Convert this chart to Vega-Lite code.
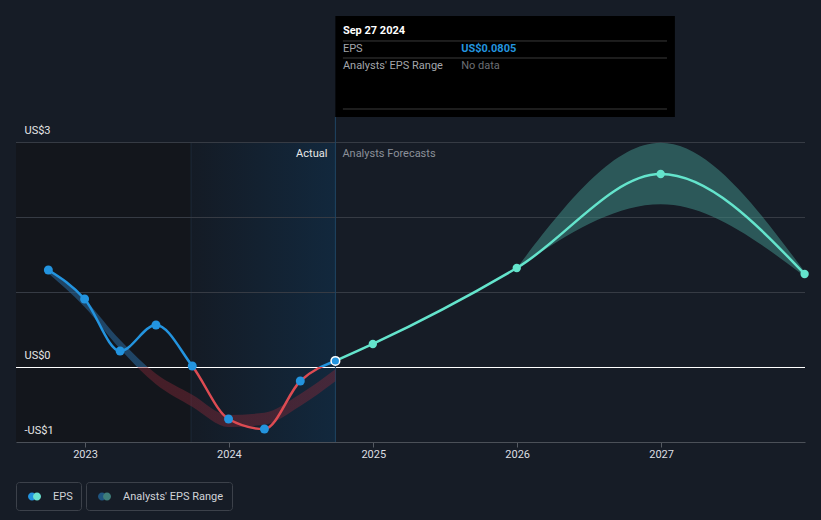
{
  "$schema": "https://vega.github.io/schema/vega-lite/v6.json",
  "width": 789,
  "height": 300,
  "autosize": {"type": "none"},
  "padding": {"left": 16, "top": 142, "right": 16, "bottom": 78},
  "background": "#161c26",
  "config": {"view": {"stroke": null}, "font": "Roboto"},
  "resolve": {"scale": {"fill": "independent"}, "legend": {"fill": "independent"}},
  "layer": [
    {
      "data": {"values": [{"s": "2022-07-10", "e": "2023-09-27"}]},
      "mark": {"type": "rect", "fill": "#13161c"},
      "encoding": {
        "x": {"field": "s", "type": "temporal", "title": null, "scale": {"type": "utc", "domain": [{"year": 2022, "month": 7, "date": 10, "utc": true}, {"year": 2028, "month": 1, "date": 1, "utc": true}]},
          "axis": {"title": null, "format": "%Y", "values": [{"year": 2023, "month": 1, "date": 1, "utc": true}, {"year": 2024, "month": 1, "date": 1, "utc": true}, {"year": 2025, "month": 1, "date": 1, "utc": true}, {"year": 2026, "month": 1, "date": 1, "utc": true}, {"year": 2027, "month": 1, "date": 1, "utc": true}], "grid": false, "domainColor": "#4b5058", "tickColor": "#555a62", "tickSize": 5, "labelColor": "#dcdee2", "labelFontSize": 11, "labelFont": "Roboto", "labelPadding": 1, "labelFlush": false}},
        "x2": {"field": "e"}
      }
    },
    {
      "data": {"values": [{"s": "2023-09-27", "e": "2024-09-27"}]},
      "mark": {"type": "rect", "fill": {"gradient": "linear", "x1": 0, "y1": 0, "x2": 1, "y2": 0, "stops": [{"offset": 0, "color": "#141b25"}, {"offset": 1, "color": "#12283d"}]}},
      "encoding": {
        "x": {"field": "s", "type": "temporal", "title": null},
        "x2": {"field": "e"}
      }
    },
    {
      "data": {"values": [{"s": "2023-09-27"}]},
      "mark": {"type": "rule", "color": "#1d2a38", "strokeWidth": 1},
      "encoding": {"x": {"field": "s", "type": "temporal", "title": null}}
    },
    {
      "data": {"values": [{"v": 1}, {"v": 2}, {"v": 3}]},
      "mark": {"type": "rule", "color": "#363b44", "strokeWidth": 1, "yOffset": 0.5},
      "encoding": {
        "y": {"field": "v", "type": "quantitative", "title": null, "scale": {"domain": [-1, 3], "nice": false, "zero": false},
          "axis": {"title": null, "zindex": 2, "values": [-1, 0, 3], "labelExpr": "datum.value < 0 ? '-US$' + abs(datum.value) : 'US$' + datum.value", "domain": false, "ticks": false, "grid": false, "labelAlign": "left", "labelBaseline": "bottom", "labelPadding": -8, "labelOffset": -7, "labelColor": "#e6e6e6", "labelFontSize": 11, "labelFont": "Roboto", "labelFlush": false, "labelBound": false, "labelOverlap": false}}
      }
    },
    {
      "data": {"values": [{"v": 0}]},
      "mark": {"type": "rule", "color": "#ffffff", "strokeWidth": 1, "yOffset": 0.5},
      "encoding": {"y": {"field": "v", "type": "quantitative", "title": null}}
    },
    {
      "data": {"values": [{"d": "2024-09-27", "lo": -1, "hi": 3.333}]},
      "mark": {"type": "rule", "color": "#1f4563", "strokeWidth": 1},
      "encoding": {
        "x": {"field": "d", "type": "temporal", "title": null},
        "y": {"field": "lo", "type": "quantitative", "title": null},
        "y2": {"field": "hi"}
      }
    },
    {
      "data": {"values": [
        {"d": "2022-09-30", "lo": 1.25, "hi": 1.31},
        {"d": "2022-12-31", "lo": 0.80, "hi": 0.90},
        {"d": "2023-03-31", "lo": 0.24, "hi": 0.36},
        {"d": "2023-06-30", "lo": -0.23, "hi": -0.09},
        {"d": "2023-09-30", "lo": -0.53, "hi": -0.37},
        {"d": "2023-12-31", "lo": -0.80, "hi": -0.64},
        {"d": "2024-03-31", "lo": -0.77, "hi": -0.61},
        {"d": "2024-06-30", "lo": -0.52, "hi": -0.36},
        {"d": "2024-09-27", "lo": -0.19, "hi": -0.03}
      ]},
      "mark": {"type": "area", "interpolate": "monotone", "fill": {"gradient": "linear", "x1": 0, "y1": 0, "x2": 0, "y2": 1, "stops": [{"offset": 0, "color": "rgba(40,100,150,0.6)"}, {"offset": 0.621, "color": "rgba(40,100,150,0.6)"}, {"offset": 0.621, "color": "rgba(130,40,55,0.45)"}, {"offset": 1, "color": "rgba(130,40,55,0.45)"}]}},
      "encoding": {
        "x": {"field": "d", "type": "temporal", "title": null},
        "y": {"field": "lo", "type": "quantitative", "title": null},
        "y2": {"field": "hi"}
      }
    },
    {
      "data": {"values": [
        {"d": "2025-12-31", "lo": 1.32, "hi": 1.32},
        {"d": "2026-12-31", "lo": 2.17, "hi": 2.99},
        {"d": "2027-12-31", "lo": 1.21, "hi": 1.27}
      ]},
      "mark": {"type": "area", "interpolate": "monotone", "fill": "#3f8a84", "fillOpacity": 0.55, "strokeWidth": 0},
      "encoding": {
        "x": {"field": "d", "type": "temporal", "title": null},
        "y": {"field": "lo", "type": "quantitative", "title": null},
        "y2": {"field": "hi"}
      }
    },
    {
      "data": {"values": [
        {"d": "2022-09-30", "v": 1.293},
        {"d": "2022-12-31", "v": 0.907},
        {"d": "2023-03-31", "v": 0.213},
        {"d": "2023-06-30", "v": 0.56},
        {"d": "2023-09-30", "v": 0.013},
        {"d": "2023-12-31", "v": -0.693},
        {"d": "2024-03-31", "v": -0.827},
        {"d": "2024-06-30", "v": -0.187},
        {"d": "2024-09-27", "v": 0.0805}
      ]},
      "mark": {"type": "line", "interpolate": "monotone", "strokeWidth": 2.5, "stroke": {"gradient": "linear", "x1": 0, "y1": 0, "x2": 0, "y2": 1, "stops": [{"offset": 0, "color": "#2394df"}, {"offset": 0.61, "color": "#2394df"}, {"offset": 0.61, "color": "#dd4b52"}, {"offset": 1, "color": "#dd4b52"}]}},
      "encoding": {
        "x": {"field": "d", "type": "temporal", "title": null},
        "y": {"field": "v", "type": "quantitative", "title": null}
      }
    },
    {
      "data": {"values": [
        {"d": "2024-09-27", "v": 0.0805},
        {"d": "2024-12-31", "v": 0.307},
        {"d": "2025-12-31", "v": 1.32},
        {"d": "2026-12-31", "v": 2.573},
        {"d": "2027-12-31", "v": 1.24}
      ]},
      "mark": {"type": "line", "interpolate": "monotone", "strokeWidth": 2.5, "color": "#64e4cc"},
      "encoding": {
        "x": {"field": "d", "type": "temporal", "title": null},
        "y": {"field": "v", "type": "quantitative", "title": null}
      }
    },
    {
      "data": {"values": [
        {"d": "2022-09-30", "v": 1.293},
        {"d": "2022-12-31", "v": 0.907},
        {"d": "2023-03-31", "v": 0.213},
        {"d": "2023-06-30", "v": 0.56},
        {"d": "2023-09-30", "v": 0.013},
        {"d": "2023-12-31", "v": -0.693},
        {"d": "2024-03-31", "v": -0.827},
        {"d": "2024-06-30", "v": -0.187}
      ]},
      "mark": {"type": "circle", "size": 80, "color": "#2394df", "opacity": 1},
      "encoding": {
        "x": {"field": "d", "type": "temporal", "title": null},
        "y": {"field": "v", "type": "quantitative", "title": null}
      }
    },
    {
      "data": {"values": [
        {"d": "2024-12-31", "v": 0.307},
        {"d": "2025-12-31", "v": 1.32},
        {"d": "2026-12-31", "v": 2.573},
        {"d": "2027-12-31", "v": 1.24}
      ]},
      "mark": {"type": "circle", "size": 70, "color": "#64e4cc", "opacity": 1},
      "encoding": {
        "x": {"field": "d", "type": "temporal", "title": null},
        "y": {"field": "v", "type": "quantitative", "title": null}
      }
    },
    {
      "data": {"values": [{"d": "2024-09-27", "v": 0.0805}]},
      "mark": {"type": "circle", "size": 75, "color": "#2394df", "stroke": "#ffffff", "strokeWidth": 1.5, "opacity": 1},
      "encoding": {
        "x": {"field": "d", "type": "temporal", "title": null},
        "y": {"field": "v", "type": "quantitative", "title": null}
      }
    },
    {
      "data": {"values": [{"d": "2024-09-27", "v": 2.84, "t": "Actual"}]},
      "mark": {"type": "text", "align": "right", "baseline": "middle", "dx": -8, "fontSize": 11, "color": "#e8e8e8", "font": "Roboto"},
      "encoding": {
        "x": {"field": "d", "type": "temporal", "title": null},
        "y": {"field": "v", "type": "quantitative", "title": null},
        "text": {"field": "t"}
      }
    },
    {
      "data": {"values": [{"d": "2024-09-27", "v": 2.84, "t": "Analysts Forecasts"}]},
      "mark": {"type": "text", "align": "left", "baseline": "middle", "dx": 7, "fontSize": 11, "color": "#8b9099", "font": "Roboto"},
      "encoding": {
        "x": {"field": "d", "type": "temporal", "title": null},
        "y": {"field": "v", "type": "quantitative", "title": null},
        "text": {"field": "t"}
      }
    },
    {
      "data": {"values": [{"s": "2024-09-27", "e": "2027-02-05", "lo": 3.333, "hi": 4.68}]},
      "mark": {"type": "rect", "fill": "#000000"},
      "encoding": {
        "x": {"field": "s", "type": "temporal", "title": null},
        "x2": {"field": "e"},
        "y": {"field": "lo", "type": "quantitative", "title": null},
        "y2": {"field": "hi"}
      }
    },
    {
      "data": {"values": [
        {"s": "2024-10-16", "e": "2027-01-16", "v": 4.347},
        {"s": "2024-10-16", "e": "2027-01-16", "v": 4.12},
        {"s": "2024-10-16", "e": "2027-01-16", "v": 3.44}
      ]},
      "mark": {"type": "rule", "color": "#3a3a3a", "strokeWidth": 1},
      "encoding": {
        "x": {"field": "s", "type": "temporal", "title": null},
        "x2": {"field": "e"},
        "y": {"field": "v", "type": "quantitative", "title": null}
      }
    },
    {
      "data": {"values": [{"d": "2024-10-16", "v": 4.48, "t": "Sep 27 2024"}]},
      "mark": {"type": "text", "align": "left", "baseline": "middle", "fontSize": 11, "fontWeight": "bold", "color": "#ffffff", "font": "Roboto"},
      "encoding": {
        "x": {"field": "d", "type": "temporal", "title": null},
        "y": {"field": "v", "type": "quantitative", "title": null},
        "text": {"field": "t"}
      }
    },
    {
      "data": {"values": [{"d": "2024-10-16", "v": 4.24, "t": "EPS"}, {"d": "2024-10-16", "v": 4.013, "t": "Analysts' EPS Range"}]},
      "mark": {"type": "text", "align": "left", "baseline": "middle", "fontSize": 11, "color": "#a3a6ab", "font": "Roboto"},
      "encoding": {
        "x": {"field": "d", "type": "temporal", "title": null},
        "y": {"field": "v", "type": "quantitative", "title": null},
        "text": {"field": "t"}
      }
    },
    {
      "data": {"values": [{"d": "2025-08-12", "v": 4.24, "t": "US$0.0805"}]},
      "mark": {"type": "text", "align": "left", "baseline": "middle", "fontSize": 11, "fontWeight": "bold", "color": "#2394df", "font": "Roboto"},
      "encoding": {
        "x": {"field": "d", "type": "temporal", "title": null},
        "y": {"field": "v", "type": "quantitative", "title": null},
        "text": {"field": "t"}
      }
    },
    {
      "data": {"values": [{"d": "2025-08-12", "v": 4.013, "t": "No data"}]},
      "mark": {"type": "text", "align": "left", "baseline": "middle", "fontSize": 11, "color": "#6c6f74", "font": "Roboto"},
      "encoding": {
        "x": {"field": "d", "type": "temporal", "title": null},
        "y": {"field": "v", "type": "quantitative", "title": null},
        "text": {"field": "t"}
      }
    },
    {
      "data": {"values": [{"k": "EPS"}]},
      "mark": {"type": "point", "filled": true, "opacity": 0},
      "encoding": {
        "fill": {"field": "k", "type": "nominal", "scale": {"domain": ["EPS"], "range": ["#2394df"]},
          "legend": {"title": null, "orient": "none", "legendX": 0, "legendY": 340, "symbolType": "M-1,0A0.615,0.615 0 1,1 0.23,0A0.615,0.615 0 1,1 -1,0Z", "symbolSize": 169, "symbolOpacity": 1, "symbolStrokeWidth": 0, "labelColor": "#d0d3d8", "labelFontSize": 11, "labelFont": "Roboto", "padding": 8, "labelOffset": 12, "symbolOffset": 4, "strokeColor": "#3c414a", "cornerRadius": 3}
        }
      }
    },
    {
      "data": {"values": [{"k": "EPS"}]},
      "mark": {"type": "point", "filled": true, "opacity": 0},
      "encoding": {
        "fill": {"field": "k", "type": "nominal", "scale": {"domain": ["EPS"], "range": ["#6be3d0"]},
          "legend": {"title": null, "orient": "none", "legendX": 0, "legendY": 340, "symbolType": "M-0.23,0A0.615,0.615 0 1,1 1,0A0.615,0.615 0 1,1 -0.23,0Z", "symbolSize": 169, "symbolOpacity": 1, "symbolStrokeWidth": 0, "labelColor": "rgba(0,0,0,0)", "labelFontSize": 11, "labelFont": "Roboto", "padding": 8, "labelOffset": 12, "symbolOffset": 4}
        }
      }
    },
    {
      "data": {"values": [{"k": "Analysts' EPS Range"}]},
      "mark": {"type": "point", "filled": true, "opacity": 0},
      "encoding": {
        "fill": {"field": "k", "type": "nominal", "scale": {"domain": ["Analysts' EPS Range"], "range": ["#1f5580"]},
          "legend": {"title": null, "orient": "none", "legendX": 70, "legendY": 340, "symbolType": "M-1,0A0.615,0.615 0 1,1 0.23,0A0.615,0.615 0 1,1 -1,0Z", "symbolSize": 169, "symbolOpacity": 1, "symbolStrokeWidth": 0, "labelColor": "#d0d3d8", "labelFontSize": 11, "labelFont": "Roboto", "padding": 8, "labelOffset": 12, "symbolOffset": 4, "strokeColor": "#3c414a", "cornerRadius": 3}
        }
      }
    },
    {
      "data": {"values": [{"k": "Analysts' EPS Range"}]},
      "mark": {"type": "point", "filled": true, "opacity": 0},
      "encoding": {
        "fill": {"field": "k", "type": "nominal", "scale": {"domain": ["Analysts' EPS Range"], "range": ["#3f7e7a"]},
          "legend": {"title": null, "orient": "none", "legendX": 70, "legendY": 340, "symbolType": "M-0.23,0A0.615,0.615 0 1,1 1,0A0.615,0.615 0 1,1 -0.23,0Z", "symbolSize": 169, "symbolOpacity": 1, "symbolStrokeWidth": 0, "labelColor": "rgba(0,0,0,0)", "labelFontSize": 11, "labelFont": "Roboto", "padding": 8, "labelOffset": 12, "symbolOffset": 4}
        }
      }
    }
  ]
}
